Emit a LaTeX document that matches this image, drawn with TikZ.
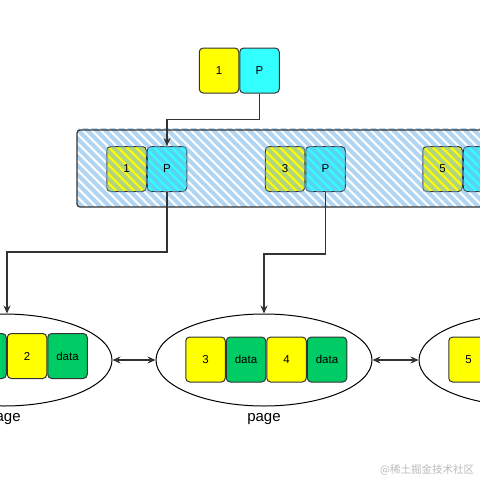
\documentclass[tikz,border=0pt]{standalone}
\usepackage{fontspec}
\setmainfont{Liberation Sans}
\newfontfamily\cjk{Noto Sans CJK SC}
\usepackage{tikz}
\usetikzlibrary{arrows.meta,positioning,shapes}
\usepackage{xcolor}
\definecolor{keyyellow}{RGB}{255,255,0}
\definecolor{ptrcyan}{RGB}{51,255,255}
\definecolor{datagreen}{RGB}{0,204,102}
\definecolor{hatchblue}{RGB}{115,178,230}
\definecolor{edgegray}{RGB}{51,51,51}

\begin{document}
\begin{tikzpicture}[x=1pt,y=-1pt,line width=1pt,>={Stealth[length=8pt,width=7pt]},
  cell/.style={draw=edgegray,rounded corners=4pt,minimum width=39.5pt,minimum height=45pt,inner sep=0pt,font=\fontsize{11.5}{12}\selectfont},
  key/.style={cell,fill=keyyellow},
  ptr/.style={cell,fill=ptrcyan},
  datum/.style={cell,fill=datagreen},
  page/.style={draw=black,ellipse,minimum width=216pt,minimum height=92pt},
  tag/.style={font=\fontsize{15}{16}\selectfont},
  link/.style={->,draw=edgegray,line width=1.4pt}]
  \useasboundingbox (0,0) rectangle (480,480);

  % root entry
  \node[key] (k0) at (219,70.5) {1};
  \node[ptr] (p0) [right=0pt of k0] {P};

  % index page
  \node[key] (k1) at (126.5,169) {};
  \node[ptr] (p1) [right=0pt of k1] {};
  \node[key] (k2) at (285,169) {};
  \node[ptr] (p2) [right=0pt of k2] {};
  \node[key] (k3) at (442.5,169) {};
  \node[ptr] (p3) [right=0pt of k3] {};
  \begin{scope}
    \clip[rounded corners=3pt] (77,128) rectangle (500,207);
    \foreach \x in {-40,-31,...,490}
      \draw[hatchblue,opacity=0.55,line width=4pt] (\x,120) -- ++(100,100);
  \end{scope}
  \draw[edgegray,line width=1.2pt,rounded corners=3pt] (77,130) rectangle (500,207);
  \foreach \n/\t in {k1/1,p1/P,k2/3,p2/P,k3/5,p3/P}
    \node[font=\fontsize{11.5}{12}\selectfont] at (\n) {\t};

  % leaf pages
  \node[page] (e1) at (4,360) {};
  \node[page] (e2) at (264,360) {};
  \node[page] (e3) at (527,360) {};
  \node[tag] [below=3pt of e1] {page};
  \node[tag] [below=3pt of e2] {page};

  \node[datum] (d1) at (-13.5,356) {data};
  \node[key] (k4) [right=0pt of d1] {2};
  \node[datum] (d2) [right=0pt of k4] {data};

  \node[key] (k5) at (205.5,359.5) {3};
  \node[datum] (d3) [right=0pt of k5] {data};
  \node[key] (k6) [right=0pt of d3] {4};
  \node[datum] (d4) [right=0pt of k6] {data};

  \node[key] (k7) at (468.5,359.5) {5};
  \node[datum] (d5) [right=0pt of k7] {data};

  % pointers
  \draw[link] (p0.south) -- ++(0,26) -| (p1.north);
  \draw[link] (p1.south) -- ++(0,60) -| ([xshift=3pt]e1.north);
  \draw[link] (p2.south) -- ++(0,62) -| (e2.north);
  \draw[edgegray,line width=1.4pt] (p3.south) -- ++(0,60);
  \draw[link,<->] (e1.east) -- (e2.west);
  \draw[link,<->] (e2.east) -- (e3.west);

  \node[text=gray!55,font=\cjk\fontsize{10.5}{12}\selectfont,anchor=east] (mark) at (478,470) {@稀土掘金技术社区};
\end{tikzpicture}
\end{document}
